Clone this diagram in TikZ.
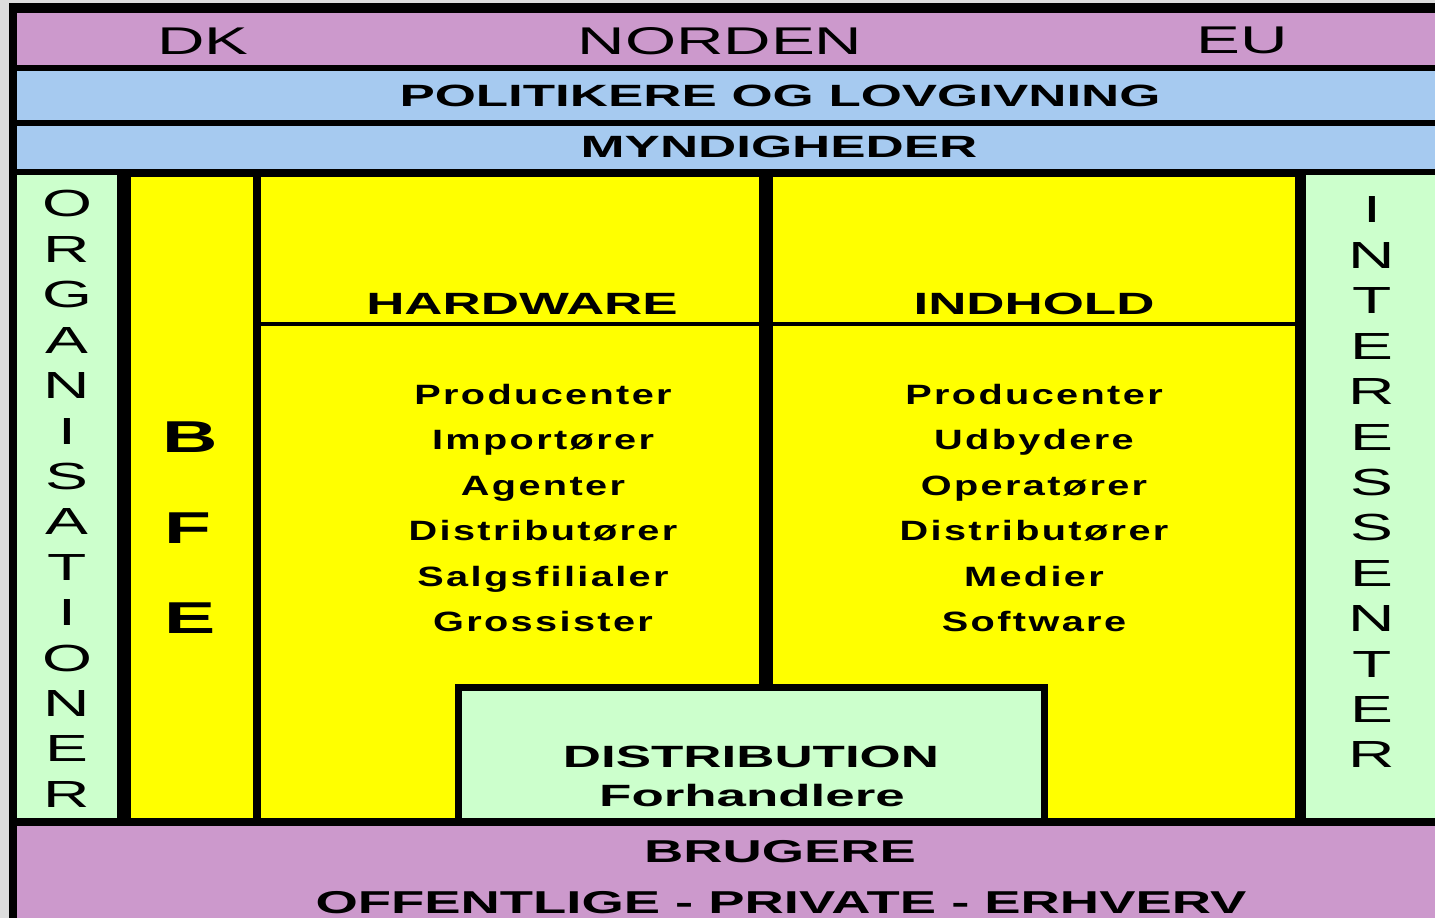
\documentclass[tikz,border=0pt]{standalone}
\usepackage{fontspec}
\setmainfont{Liberation Sans}
\newfontfamily\widereg[FakeStretch=1.7]{Liberation Sans}
\newfontfamily\widebold[FakeStretch=1.72]{Liberation Sans Bold}
\newfontfamily\listbold[FakeStretch=1.42,LetterSpace=8.5]{Liberation Sans Bold}
\definecolor{lilla}{HTML}{CC99CC}
\definecolor{lyseblaa}{HTML}{A6CAF0}
\definecolor{lysegroen}{HTML}{CCFFCC}
\definecolor{gul}{HTML}{FFFF00}
\definecolor{graa}{HTML}{DDDDDD}
\tikzset{
  toplabel/.style={anchor=base,inner sep=0pt,font=\widereg\fontsize{22}{24}\selectfont},
  heading/.style={anchor=base,inner sep=0pt,font=\widebold\fontsize{17.5}{20}\selectfont},
  bottomlabel/.style={anchor=base,inner sep=0pt,font=\widebold\fontsize{18}{20}\selectfont},
  item/.style={anchor=base,inner sep=0pt,font=\listbold\fontsize{15.9}{18}\selectfont},
  vletter/.style={anchor=base,inner sep=0pt,font=\widereg\fontsize{21.5}{24}\selectfont},
  bigletter/.style={anchor=base,inner sep=0pt,font=\widebold\fontsize{25.4}{28}\selectfont},
}
\begin{document}
\begin{tikzpicture}[x=0.02cm,y=-0.02cm]
	\useasboundingbox (0,0) rectangle (1435,918);
	\fill[graa] (0,0) rectangle (1435,918);
	\fill[black] (9,3) rectangle (1435,918);
	
	% bands at the top
	\fill[lilla] (17,13) rectangle (1435,65);
	\fill[lyseblaa] (17,71) rectangle (1435,120);
	\fill[lyseblaa] (17,126) rectangle (1435,169);
	
	% side columns
	\fill[lysegroen] (17,175) rectangle (117,818);
	\fill[lysegroen] (1306,175) rectangle (1435,818);
	
	% yellow middle
	\fill[gul] (131,177) rectangle (253,818);
	\fill[gul] (261,177) rectangle (759,322);
	\fill[gul] (261,326) rectangle (759,818);
	\fill[gul] (773,177) rectangle (1295,322);
	\fill[gul] (773,326) rectangle (1295,818);
	
	% distribution box
	\fill[black] (455,684) rectangle (1048,824);
	\fill[lysegroen] (462,691) rectangle (1041,818);
	
	\fill[lilla] (17,826) rectangle (1435,918);
	
	\node[toplabel] (DK) at (203,55) {DK};
	\node[toplabel] (norden) at (720,55) {NORDEN};
	\node[toplabel] (EU) at (1242,54) {EU};
	\node[heading] (politik) at (780,107) {POLITIKERE OG LOVGIVNING};
	\node[heading] (myndig) at (779,158) {MYNDIGHEDER};
	
	\foreach \ch [count=\i from 0] in {O,R,G,A,N,I,S,A,T,I,O,N,E,R}
		\node[vletter] (org\i) at (67,217+45.4*\i) {\ch};
	\foreach \ch [count=\i from 0] in {I,N,T,E,R,E,S,S,E,N,T,E,R}
		\node[vletter] (int\i) at (1372,223+45.4*\i) {\ch};
	
	\node[bigletter] (B) at (190,452) {B};
	\node[bigletter] (F) at (188,543) {F};
	\node[bigletter] (E) at (190,633) {E};
	
	\node[heading] (hardware) at (522,315) {HARDWARE};
	\node[heading] (indhold) at (1034,315) {INDHOLD};
	
	\foreach \t [count=\i from 0] in {Producenter,Importører,Agenter,Distributører,Salgsfilialer,Grossister}
		\node[item] (hw\i) at (543,404+45.5*\i) {\t};
	\foreach \t [count=\i from 0] in {Producenter,Udbydere,Operatører,Distributører,Medier,Software}
		\node[item] (ind\i) at (1034,404+45.5*\i) {\t};
	
	\node[heading] (distr) at (751,767) {DISTRIBUTION};
	\node[heading] (forh) at (752,806) {Forhandlere};
	
	\node[bottomlabel] (brugere) at (780,862) {BRUGERE};
	\node[bottomlabel] (sektor) at (781,913) {OFFENTLIGE - PRIVATE - ERHVERV};
	\end{tikzpicture}
\end{document}
